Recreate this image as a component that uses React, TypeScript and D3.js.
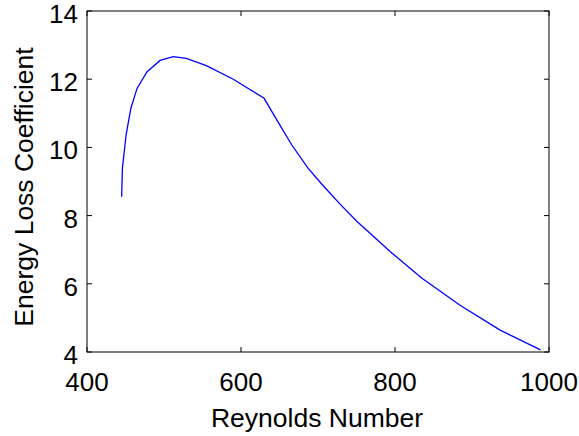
import React from "react";
import * as d3 from "d3";

const reynolds = [445, 446, 451, 457, 465, 478, 495, 512, 529, 555, 590, 630, 648, 666, 687, 705, 729, 750, 794, 835, 884, 936, 989];
const lossCoef = [8.55, 9.4, 10.4, 11.15, 11.73, 12.22, 12.55, 12.66, 12.61, 12.4, 12.0, 11.44, 10.75, 10.07, 9.39, 8.92, 8.33, 7.84, 6.94, 6.16, 5.38, 4.65, 4.06];
const xTicks = [400, 600, 800, 1000];
const yTicks = [4, 6, 8, 10, 12, 14];

const W = 579, H = 436;
const left = 87, right = 549, top = 11, bottom = 352;

export default function App() {
  const x = d3.scaleLinear().domain([400, 1000]).range([left, right]);
  const y = d3.scaleLinear().domain([4, 14]).range([bottom, top]);
  const line = d3.line<number>().x((_, i) => x(reynolds[i])).y((d) => y(d));
  const font = "'Liberation Sans', Arial, Helvetica, sans-serif";
  const tl = 5;
  return (
    <svg width={W} height={H} style={{ position: "absolute", left: 0, top: 0, background: "#fff" }}>
      <rect x={0} y={0} width={W} height={H} fill="#fff" />
      <path d={line(lossCoef) || ""} fill="none" stroke="#0000ff" strokeWidth={1.3} />
      <rect x={left} y={top} width={right - left} height={bottom - top} fill="none" stroke="#000" strokeWidth={1} />
      {xTicks.map((t) => (
        <g key={"x" + t}>
          <line x1={x(t)} x2={x(t)} y1={bottom} y2={bottom - tl} stroke="#000" />
          <line x1={x(t)} x2={x(t)} y1={top} y2={top + tl} stroke="#000" />
          <text x={x(t)} y={391} textAnchor="middle" fontFamily={font} fontSize={26} fill="#000">{t}</text>
        </g>
      ))}
      {yTicks.map((t) => (
        <g key={"y" + t}>
          <line x1={left} x2={left + tl} y1={y(t)} y2={y(t)} stroke="#000" />
          <line x1={right} x2={right - tl} y1={y(t)} y2={y(t)} stroke="#000" />
          <text x={78} y={y(t) + 12} textAnchor="end" fontFamily={font} fontSize={26} fill="#000">{t}</text>
        </g>
      ))}
      <text x={(left + right) / 2 - 1} y={427} textAnchor="middle" fontFamily={font} fontSize={26.5} fill="#000">Reynolds Number</text>
      <text transform={`translate(33, 187) rotate(-90)`} textAnchor="middle" fontFamily={font} fontSize={26.5} fill="#000">Energy Loss Coefficient</text>
    </svg>
  );
}
